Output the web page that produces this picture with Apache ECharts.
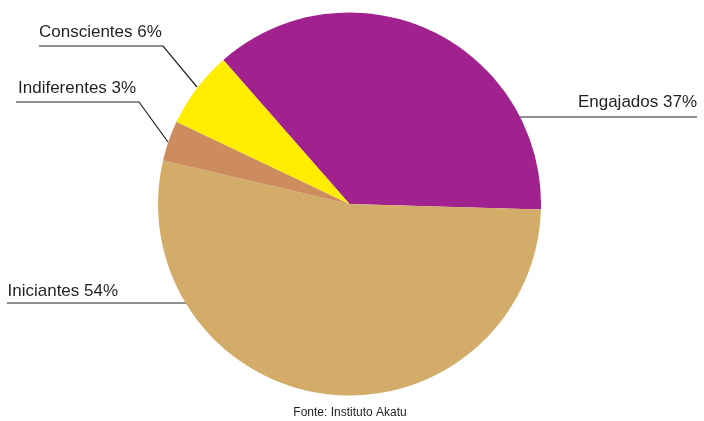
<!DOCTYPE html>
<html>
<head>
<meta charset="utf-8">
<script src="https://cdn.jsdelivr.net/npm/echarts@6/dist/echarts.min.js"></script>
<style>html,body{margin:0;padding:0;background:#fff}#c{width:704px;height:421px}</style>
</head>
<body>
<div id="c"></div>
<script>
const categories = ['Engajados', 'Iniciantes', 'Indiferentes', 'Conscientes'];
const values = [36.9, 53.2, 3.4, 6.5];
const percentLabels = ['37%', '54%', '3%', '6%'];
const colors = ['#A1228F', '#D3AC69', '#CD8C5E', '#FFED00'];
const sourceText = 'Fonte: Instituto Akatu';

// label placement (text anchor + leader line points)
const labelPlacement = [
  { x: 697, y: 102.5, align: 'right', line: [[515, 117], [606, 117], [697, 117]] },
  { x: 7.5, y: 291, align: 'left', line: [[188, 303], [100, 303], [7, 303]] },
  { x: 18, y: 88.5, align: 'left', line: [[168, 142], [139, 102], [16, 102]] },
  { x: 39, y: 32.5, align: 'left', line: [[197, 87], [163, 46], [39, 46]] }
];

const chart = echarts.init(document.getElementById('c'), null, { renderer: 'canvas' });
chart.setOption({
  animation: false,
  backgroundColor: '#ffffff',
  textStyle: { fontFamily: 'Liberation Sans, Arial, sans-serif' },
  graphic: [{
    type: 'text', x: 350, y: 413,
    style: { text: sourceText, fill: '#231f20', font: '12px "Liberation Sans", Arial, sans-serif', align: 'center', verticalAlign: 'middle' }
  }],
  series: [{
    type: 'pie',
    center: [349.5, 204],
    radius: [0, 191.5],
    startAngle: 131.2,
    clockwise: true,
    emphasis: { disabled: true },
    itemStyle: { borderWidth: 0 },
    data: categories.map((c, i) => ({ name: c, value: values[i], itemStyle: { color: colors[i] } })),
    label: {
      show: true,
      position: 'outside',
      overflow: 'none',
      width: 300,
      formatter: p => p.name + ' ' + percentLabels[p.dataIndex],
      color: '#231f20',
      fontSize: 17,
      fontFamily: 'Liberation Sans, Arial, sans-serif'
    },
    labelLine: { show: true, lineStyle: { color: '#231f20', width: 1.2 } },
    labelLayout: function (p) {
      const L = labelPlacement[p.dataIndex];
      return { x: L.x, y: L.y, align: L.align, verticalAlign: 'middle', labelLinePoints: L.line };
    }
  }]
});
</script>
</body>
</html>
